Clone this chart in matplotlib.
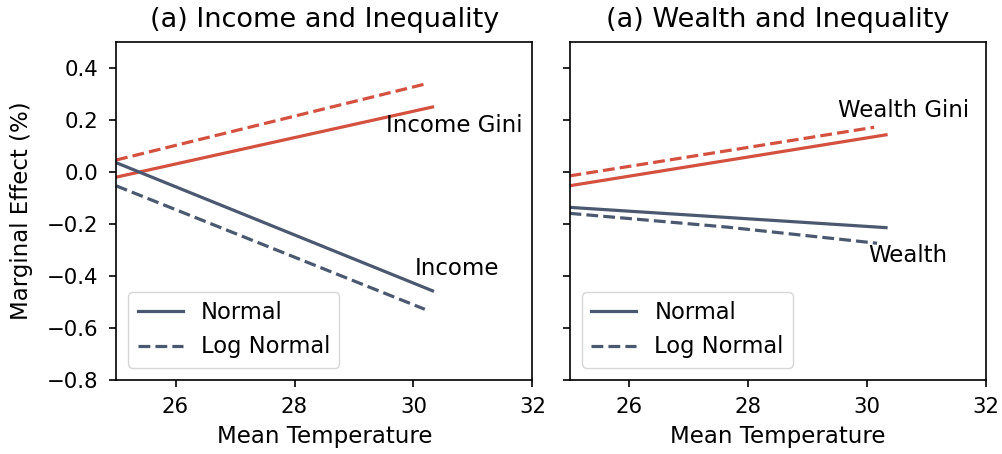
import matplotlib
matplotlib.use("Agg")
import matplotlib.pyplot as plt
import numpy as np

# Data
income_gini_normal_x = [25.0, 30.32]
income_gini_normal_y = [-0.02, 0.25]
income_gini_log_x = [25.0, 30.19]
income_gini_log_y = [0.046, 0.338]
income_normal_x = [25.0, 30.32]
income_normal_y = [0.036, -0.457]
income_log_x = [25.0, 30.19]
income_log_y = [-0.053, -0.528]

wealth_gini_normal_x = [25.0, 30.32]
wealth_gini_normal_y = [-0.053, 0.143]
wealth_gini_log_x = [25.0, 30.12]
wealth_gini_log_y = [-0.015, 0.172]
wealth_normal_x = [25.0, 30.32]
wealth_normal_y = [-0.136, -0.214]
wealth_log_x = [25.0, 27.65, 30.17]
wealth_log_y = [-0.159, -0.212, -0.274]

titles = ["(a) Income and Inequality", "(a) Wealth and Inequality"]
xticks = [26, 28, 30, 32]
yticks = [-0.8, -0.6, -0.4, -0.2, 0.0, 0.2, 0.4]

RED = "#d4503f"
BLUE = "#4b5970"

fig, axes = plt.subplots(1, 2, figsize=(10.03, 4.54), dpi=100, sharey=True)
fig.subplots_adjust(left=0.1157, right=0.983, top=0.9075, bottom=0.163, wspace=0.089)

lw = 2.3
panels = [
    (axes[0], income_gini_normal_x, income_gini_normal_y, income_gini_log_x, income_gini_log_y,
     income_normal_x, income_normal_y, income_log_x, income_log_y,
     ("Income Gini", 29.53, 0.18), ("Income", 30.02, -0.37)),
    (axes[1], wealth_gini_normal_x, wealth_gini_normal_y, wealth_gini_log_x, wealth_gini_log_y,
     wealth_normal_x, wealth_normal_y, wealth_log_x, wealth_log_y,
     ("Wealth Gini", 29.51, 0.235), ("Wealth", 30.02, -0.32)),
]

for i, (ax, gnx, gny, glx, gly, nx, ny, lx, ly, t1, t2) in enumerate(panels):
    ax.plot(gnx, gny, color=RED, lw=lw, ls="-")
    ax.plot(glx, gly, color=RED, lw=lw, ls="--")
    l1, = ax.plot(nx, ny, color=BLUE, lw=lw, ls="-", label="Normal")
    l2, = ax.plot(lx, ly, color=BLUE, lw=lw, ls="--", label="Log Normal")
    ax.text(t1[1], t1[2], t1[0], fontsize=16.5, va="center", ha="left")
    ax.text(t2[1], t2[2], t2[0], fontsize=16.5, va="center", ha="left")
    ax.set_xlim(25, 32)
    ax.set_ylim(-0.8, 0.5)
    ax.set_xticks(xticks)
    ax.set_yticks(yticks)
    ax.tick_params(labelsize=15.3, length=5, width=1.2, pad=7.5)
    for s in ax.spines.values():
        s.set_linewidth(1.2)
    ax.set_xlabel("Mean Temperature", fontsize=16.5, labelpad=5.5)
    ax.set_title(titles[i], fontsize=19.5, pad=11)
    ax.legend(handles=[l1, l2], loc="lower left", fontsize=16.3,
              borderaxespad=0.55)

axes[0].set_ylabel("Marginal Effect (%)", fontsize=16.5, labelpad=10)
axes[1].tick_params(labelleft=False)

fig.savefig("out.png", dpi=100)
